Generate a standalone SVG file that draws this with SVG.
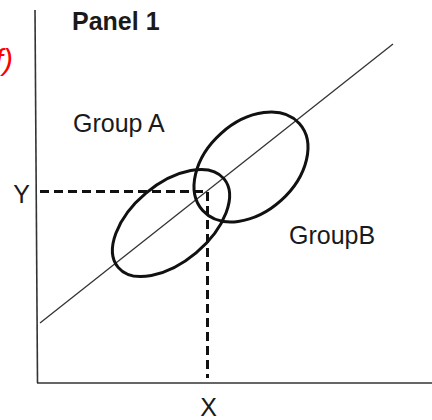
<svg xmlns="http://www.w3.org/2000/svg" width="432" height="420" viewBox="0 0 432 420">
<style>
.lbl{font-family:"Liberation Sans",Arial,sans-serif;font-size:25px;fill:#1a1a1a}
.ell{fill:none;stroke:#111;stroke-width:3}
.axis{stroke:#333;stroke-width:1.6;fill:none}
.dash{stroke:#111;stroke-width:3;stroke-dasharray:9 5;fill:none}
</style>
<rect width="432" height="420" fill="#fff"/>
<g id="connectors">
<line class="axis" x1="35" y1="10" x2="37.5" y2="383"/>
<line class="axis" x1="37" y1="383" x2="432" y2="383"/>
<line x1="40" y1="323" x2="393" y2="44" stroke="#333" stroke-width="1.3"/>
<polyline class="dash" points="40,191.5 207.5,191.5 207.5,378"/>
</g>
<g id="groupA">
<ellipse class="ell" cx="171" cy="223" rx="69" ry="39" transform="rotate(-40 171 223)"/>
</g>
<g id="groupB">
<ellipse class="ell" cx="251" cy="167" rx="65" ry="45" transform="rotate(-42 251 167)"/>
</g>
<g id="labels">
<text class="lbl" x="72" y="30" font-weight="bold" font-size="23">Panel 1</text>
<text class="lbl" x="73" y="132" font-size="25.5">Group A</text>
<text class="lbl" x="289" y="244">GroupB</text>
<text class="lbl" x="21.5" y="203" text-anchor="middle">Y</text>
<text class="lbl" x="208.5" y="416" text-anchor="middle">X</text>
<text x="13" y="70" text-anchor="end" font-family="Liberation Sans,Arial,sans-serif" font-style="italic" font-size="30" fill="#ff0000">f)</text>
</g>
</svg>
